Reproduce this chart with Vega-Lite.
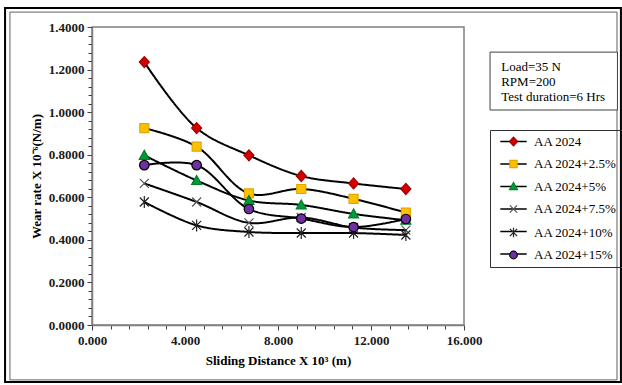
{
  "$schema": "https://vega.github.io/schema/vega-lite/v6.json",
  "width": 372,
  "height": 298,
  "autosize": {"type": "none"},
  "padding": {"left": 92, "top": 27, "right": 158, "bottom": 60},
  "background": "white",
  "config": {
    "font": "Liberation Serif",
    "view": {"stroke": "#7f7f7f", "strokeWidth": 1.5},
    "axis": {"grid": false, "domainColor": "#7f7f7f", "domainWidth": 1.5, "tickColor": "#404040", "labelFont": "Liberation Serif", "labelFontWeight": "bold", "labelFontSize": 13, "labelColor": "#1a1a1a", "titleFont": "Liberation Serif", "titleFontWeight": "bold", "titleFontSize": 13, "titleColor": "#000000", "labelOverlap": false}
  },
  "encoding": {
    "x": {
      "type": "quantitative",
      "scale": {"domain": [0, 16], "nice": false},
      "axis": {
        "title": "Sliding Distance X 10³ (m)",
        "values": [0, 0.8, 1.6, 2.4, 3.2, 4, 4.8, 5.6, 6.4, 7.2, 8, 8.8, 9.6, 10.4, 11.2, 12, 12.8, 13.6, 14.4, 15.2, 16],
        "labelExpr": "abs(datum.value/4 - round(datum.value/4)) < 0.001 ? format(datum.value, '.3f') : ''",
        "tickSize": {"condition": {"test": "abs(datum.value/4 - round(datum.value/4)) < 0.001", "value": 5}, "value": 4},
        "labelOverlap": false,
        "labelBound": false,
        "labelFlush": false,
        "labelPadding": 4,
        "titlePadding": 7
      }
    },
    "y": {
      "type": "quantitative",
      "scale": {"domain": [0, 1.4], "nice": false},
      "axis": {
        "title": "Wear rate X 10⁻⁶(N/m)",
        "values": [0, 0.04, 0.08, 0.12, 0.16, 0.2, 0.24, 0.28, 0.32, 0.36, 0.4, 0.44, 0.48, 0.52, 0.56, 0.6, 0.64, 0.68, 0.72, 0.76, 0.8, 0.84, 0.88, 0.92, 0.96, 1, 1.04, 1.08, 1.12, 1.16, 1.2, 1.24, 1.28, 1.32, 1.36, 1.4],
        "labelExpr": "abs(datum.value*5 - round(datum.value*5)) < 0.001 ? format(datum.value, '.4f') : ''",
        "tickSize": {"condition": {"test": "abs(datum.value*5 - round(datum.value*5)) < 0.001", "value": 5}, "value": 4},
        "labelOverlap": false,
        "labelBound": false,
        "labelFlush": false,
        "labelPadding": 3,
        "titlePadding": 5
      }
    }
  },
  "layer": [
    {
      "data": {"values": [{"k": 1}]},
      "mark": {"type": "rect", "fill": null, "stroke": "#000000", "strokeWidth": 2, "clip": false},
      "encoding": {
        "x": {"datum": -3.74, "type": "quantitative"},
        "x2": {"datum": 22.75},
        "y": {"datum": 1.489, "type": "quantitative"},
        "y2": {"datum": -0.268}
      }
    },
    {
      "data": {"values": [{"k": 1}]},
      "mark": {"type": "rect", "fill": null, "stroke": "#606060", "strokeWidth": 1, "clip": false},
      "encoding": {
        "x": {"datum": -3.53, "type": "quantitative"},
        "x2": {"datum": 22.58},
        "y": {"datum": 1.47, "type": "quantitative"},
        "y2": {"datum": -0.258}
      }
    },
    {
      "data": {"values": [{"k": 1}]},
      "mark": {"type": "rect", "fill": "white", "stroke": "#404040", "strokeWidth": 1, "clip": false},
      "encoding": {
        "x": {"datum": 17.12, "type": "quantitative"},
        "x2": {"datum": 22.6},
        "y": {"datum": 1.282, "type": "quantitative"},
        "y2": {"datum": 1.01}
      }
    },
    {
      "data": {"values": [{"k": 1}]},
      "mark": {"type": "text", "text": "Load=35 N\nRPM=200\nTest duration=6 Hrs", "lineBreak": "\n", "align": "left", "baseline": "top", "font": "Liberation Serif", "fontSize": 13, "lineHeight": 15, "color": "#000000", "clip": false},
      "encoding": {
        "x": {"datum": 17.6, "type": "quantitative"},
        "y": {"datum": 1.24, "type": "quantitative"}
      }
    },
    {
      "data": {"name": "wear"},
      "mark": {"type": "line", "color": "#000000", "strokeWidth": 2, "interpolate": "catmull-rom", "clip": false},
      "encoding": {
        "x": {"field": "distance", "type": "quantitative"},
        "y": {"field": "rate", "type": "quantitative"},
        "strokeDash": {
          "field": "series", "type": "nominal",
          "scale": {"range": [[1, 0], [1, 0], [1, 0], [1, 0], [1, 0], [1, 0]]},
          "legend": {
            "title": null, "orient": "none", "legendX": 398, "legendY": 103,
            "padding": 5,
            "labelFont": "Liberation Serif", "labelFontSize": 13, "labelColor": "#000000", "labelExpr": "' '",
            "rowPadding": 8.5, "symbolSize": 64, "symbolOffset": 12, "labelOffset": 14,
            "symbolType": "M-3.3,0H3.3", "symbolStrokeColor": "#000000", "symbolStrokeWidth": 1.6
          }
        }
      }
    },
    {
      "data": {"name": "wear"},
      "mark": {"type": "point", "filled": true, "opacity": 1, "strokeWidth": 1.2, "clip": false},
      "encoding": {
        "x": {"field": "distance", "type": "quantitative"},
        "y": {"field": "rate", "type": "quantitative"},
        "shape": {
          "field": "series", "type": "nominal",
          "scale": {
            "domain": ["AA 2024", "AA 2024+2.5%", "AA 2024+5%", "AA 2024+7.5%", "AA 2024+10%", "AA 2024+15%"],
            "range": ["M0,-1.1L1,0L0,1.1L-1,0Z", "M-0.9,-0.9H0.9V0.9H-0.9Z", "M0,-1L1,0.8H-1Z", "M-0.9,-0.9L0.9,0.9M-0.9,0.9L0.9,-0.9", "M-0.9,-0.9L0.9,0.9M-0.9,0.9L0.9,-0.9M0,-1.2L0,1.2", "M0.95,0A0.95,0.95 0 1,1 -0.95,0A0.95,0.95 0 1,1 0.95,0Z"]
          },
          "legend": {
            "title": null, "orient": "none", "legendX": 398, "legendY": 103,
            "strokeColor": "#303030", "padding": 5,
            "labelFont": "Liberation Serif", "labelFontSize": 13, "labelColor": "#000000",
            "rowPadding": 8.5, "symbolSize": 64, "symbolOffset": 12, "labelOffset": 14, "symbolStrokeWidth": 1.2
          }
        },
        "fill": {
          "field": "series", "type": "nominal",
          "scale": {
            "domain": ["AA 2024", "AA 2024+2.5%", "AA 2024+5%", "AA 2024+7.5%", "AA 2024+10%", "AA 2024+15%"],
            "range": ["#d40000", "#ffc000", "#009a3a", "#ffffff", "#ffffff", "#7030a0"]
          },
          "legend": null
        },
        "stroke": {
          "field": "series", "type": "nominal",
          "scale": {
            "domain": ["AA 2024", "AA 2024+2.5%", "AA 2024+5%", "AA 2024+7.5%", "AA 2024+10%", "AA 2024+15%"],
            "range": ["#a00000", "#e0a800", "#00802a", "#555555", "#222222", "#000000"]
          },
          "legend": null
        },
        "size": {"value": 100}
      }
    }
  ],
  "datasets": {
    "wear": [
      {"series": "AA 2024", "distance": 2.25, "rate": 1.235},
      {"series": "AA 2024", "distance": 4.5, "rate": 0.925},
      {"series": "AA 2024", "distance": 6.75, "rate": 0.797},
      {"series": "AA 2024", "distance": 9, "rate": 0.700},
      {"series": "AA 2024", "distance": 11.25, "rate": 0.665},
      {"series": "AA 2024", "distance": 13.5, "rate": 0.639},
      {"series": "AA 2024+2.5%", "distance": 2.25, "rate": 0.925},
      {"series": "AA 2024+2.5%", "distance": 4.5, "rate": 0.838},
      {"series": "AA 2024+2.5%", "distance": 6.75, "rate": 0.618},
      {"series": "AA 2024+2.5%", "distance": 9, "rate": 0.639},
      {"series": "AA 2024+2.5%", "distance": 11.25, "rate": 0.593},
      {"series": "AA 2024+2.5%", "distance": 13.5, "rate": 0.528},
      {"series": "AA 2024+5%", "distance": 2.25, "rate": 0.797},
      {"series": "AA 2024+5%", "distance": 4.5, "rate": 0.679},
      {"series": "AA 2024+5%", "distance": 6.75, "rate": 0.585},
      {"series": "AA 2024+5%", "distance": 9, "rate": 0.564},
      {"series": "AA 2024+5%", "distance": 11.25, "rate": 0.522},
      {"series": "AA 2024+5%", "distance": 13.5, "rate": 0.492},
      {"series": "AA 2024+7.5%", "distance": 2.25, "rate": 0.665},
      {"series": "AA 2024+7.5%", "distance": 4.5, "rate": 0.578},
      {"series": "AA 2024+7.5%", "distance": 6.75, "rate": 0.480},
      {"series": "AA 2024+7.5%", "distance": 9, "rate": 0.505},
      {"series": "AA 2024+7.5%", "distance": 11.25, "rate": 0.458},
      {"series": "AA 2024+7.5%", "distance": 13.5, "rate": 0.446},
      {"series": "AA 2024+10%", "distance": 2.25, "rate": 0.578},
      {"series": "AA 2024+10%", "distance": 4.5, "rate": 0.468},
      {"series": "AA 2024+10%", "distance": 6.75, "rate": 0.437},
      {"series": "AA 2024+10%", "distance": 9, "rate": 0.432},
      {"series": "AA 2024+10%", "distance": 11.25, "rate": 0.432},
      {"series": "AA 2024+10%", "distance": 13.5, "rate": 0.423},
      {"series": "AA 2024+15%", "distance": 2.25, "rate": 0.751},
      {"series": "AA 2024+15%", "distance": 4.5, "rate": 0.751},
      {"series": "AA 2024+15%", "distance": 6.75, "rate": 0.545},
      {"series": "AA 2024+15%", "distance": 9, "rate": 0.500},
      {"series": "AA 2024+15%", "distance": 11.25, "rate": 0.460},
      {"series": "AA 2024+15%", "distance": 13.5, "rate": 0.498}
    ]
  }
}
